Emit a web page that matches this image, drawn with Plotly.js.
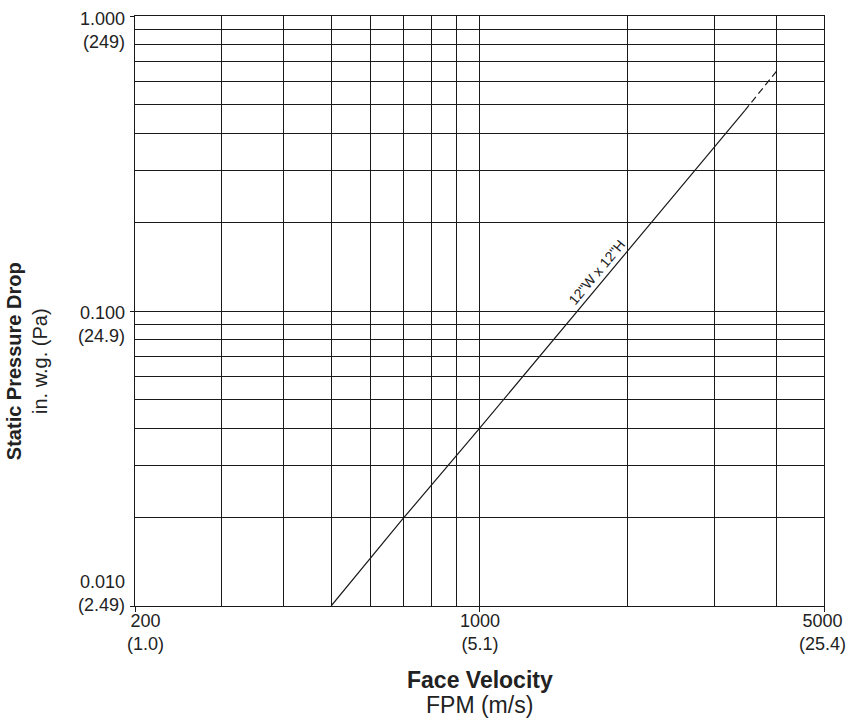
<!DOCTYPE html>
<html>
<head>
<meta charset="utf-8">
<script src="https://cdn.plot.ly/plotly-3.0.1.min.js"></script>
<style>html,body{margin:0;padding:0;background:#fff;}#chart{width:846px;height:722px;}</style>
</head>
<body>
<div id="chart"></div>
<script>
// ---- data ----
const fpmSolid = [500, 700, 1000, 2000, 3000, 3450];
const dropSolid = [0.010, 0.0198, 0.040, 0.161, 0.362, 0.477];
const fpmDashed = [3450, 4050];
const dropDashed = [0.477, 0.665];
const seriesLabel = '12"W x 12"H';
const labelAt = {fpm: 1794, drop: 0.129};

const xTickVals = [200, 1000, 5000];
const xTickText = ['200<br>(1.0)', '1000<br>(5.1)', '5000<br>(25.4)'];
const yTickVals = [1.0, 0.1, 0.01];
const yTickText = ['1.000<br>(249)', '0.100<br>(24.9)', '0.010<br>(2.49)'];
const xGridVals = [300, 400, 500, 600, 700, 800, 900, 2000, 3000, 4000];
const yGridVals = [0.02, 0.03, 0.04, 0.05, 0.06, 0.07, 0.08, 0.09,
                   0.2, 0.3, 0.4, 0.5, 0.6, 0.7, 0.8, 0.9];
const xTitleMain = '<b>Face Velocity</b>';
const xTitleUnit = 'FPM (m/s)';
const yTitle = '<b>Static Pressure Drop</b><br>in. w.g. (Pa)';

// ---- styling ----
const FONT = 'Liberation Sans, Arial, Helvetica, sans-serif';
const INK = '#1a1a1a';
const xLabelShift = [10, 0, -2];
const yLabelShift = [-14, -13.5, 13];

const traces = [
  {x: fpmSolid, y: dropSolid, mode: 'lines', type: 'scatter',
   line: {color: INK, width: 1.2}, hoverinfo: 'skip', showlegend: false},
  {x: fpmDashed, y: dropDashed, mode: 'lines', type: 'scatter',
   line: {color: INK, width: 1.2, dash: '7px,4px'}, hoverinfo: 'skip', showlegend: false}
];

const annotations = [];
xTickVals.forEach((v, i) => annotations.push({
  xref: 'x', yref: 'paper', x: Math.log10(v), y: 0, yanchor: 'middle', xanchor: 'center',
  yshift: -26, xshift: xLabelShift[i], text: xTickText[i], showarrow: false,
  font: {family: FONT, size: 18, color: '#222'}
}));
yTickVals.forEach((v, i) => annotations.push({
  xref: 'paper', yref: 'y', x: 0, y: Math.log10(v), xanchor: 'right', yanchor: 'middle',
  xshift: -8, yshift: yLabelShift[i], text: yTickText[i], align: 'right', showarrow: false,
  font: {family: FONT, size: 18, color: '#222'}
}));
annotations.push({
  xref: 'paper', yref: 'paper', x: 0.5, y: 0, xanchor: 'center', yanchor: 'middle',
  yshift: -74, text: xTitleMain, showarrow: false, font: {family: FONT, size: 23, color: '#222'}
});
annotations.push({
  xref: 'paper', yref: 'paper', x: 0.5, y: 0, xanchor: 'center', yanchor: 'middle',
  yshift: -99, text: xTitleUnit, showarrow: false, font: {family: FONT, size: 23, color: '#222'}
});
annotations.push({
  xref: 'paper', yref: 'paper', x: 0, y: 0.415, xanchor: 'center', yanchor: 'middle',
  xshift: -108, textangle: -90,
  text: yTitle, showarrow: false, font: {family: FONT, size: 20, color: '#222'}
});
annotations.push({
  xref: 'x', yref: 'y', x: Math.log10(labelAt.fpm), y: Math.log10(labelAt.drop),
  xanchor: 'center', yanchor: 'middle', xshift: -7.7, yshift: 6.4, textangle: -50.2,
  text: seriesLabel, showarrow: false, font: {family: FONT, size: 14, color: '#222'}
});

const layout = {
  width: 846, height: 722,
  margin: {l: 135, r: 22, t: 16, b: 116, pad: 0},
  paper_bgcolor: '#fff', plot_bgcolor: '#fff',
  showlegend: false,
  font: {family: FONT, color: '#222'},
  xaxis: {
    type: 'log', range: [Math.log10(200), Math.log10(5000)],
    tickmode: 'array', tickvals: xTickVals, showticklabels: false,
    ticks: 'outside', ticklen: 5, tickwidth: 1, tickcolor: INK,
    showgrid: true, gridcolor: INK, gridwidth: 1,
    minor: {tickmode: 'array', tickvals: xGridVals, showgrid: true, gridcolor: INK, gridwidth: 1, ticks: ''},
    showline: true, linecolor: INK, linewidth: 1, mirror: true,
    zeroline: false, fixedrange: true
  },
  yaxis: {
    type: 'log', range: [-2, 0],
    tickmode: 'array', tickvals: yTickVals, showticklabels: false,
    ticks: 'outside', ticklen: 4, tickwidth: 1, tickcolor: INK,
    showgrid: true, gridcolor: INK, gridwidth: 1,
    minor: {tickmode: 'array', tickvals: yGridVals, showgrid: true, gridcolor: INK, gridwidth: 1, ticks: ''},
    showline: true, linecolor: INK, linewidth: 1, mirror: true,
    zeroline: false, fixedrange: true
  },
  annotations: annotations
};

Plotly.newPlot('chart', traces, layout, {staticPlot: true, displayModeBar: false});
</script>
</body>
</html>
